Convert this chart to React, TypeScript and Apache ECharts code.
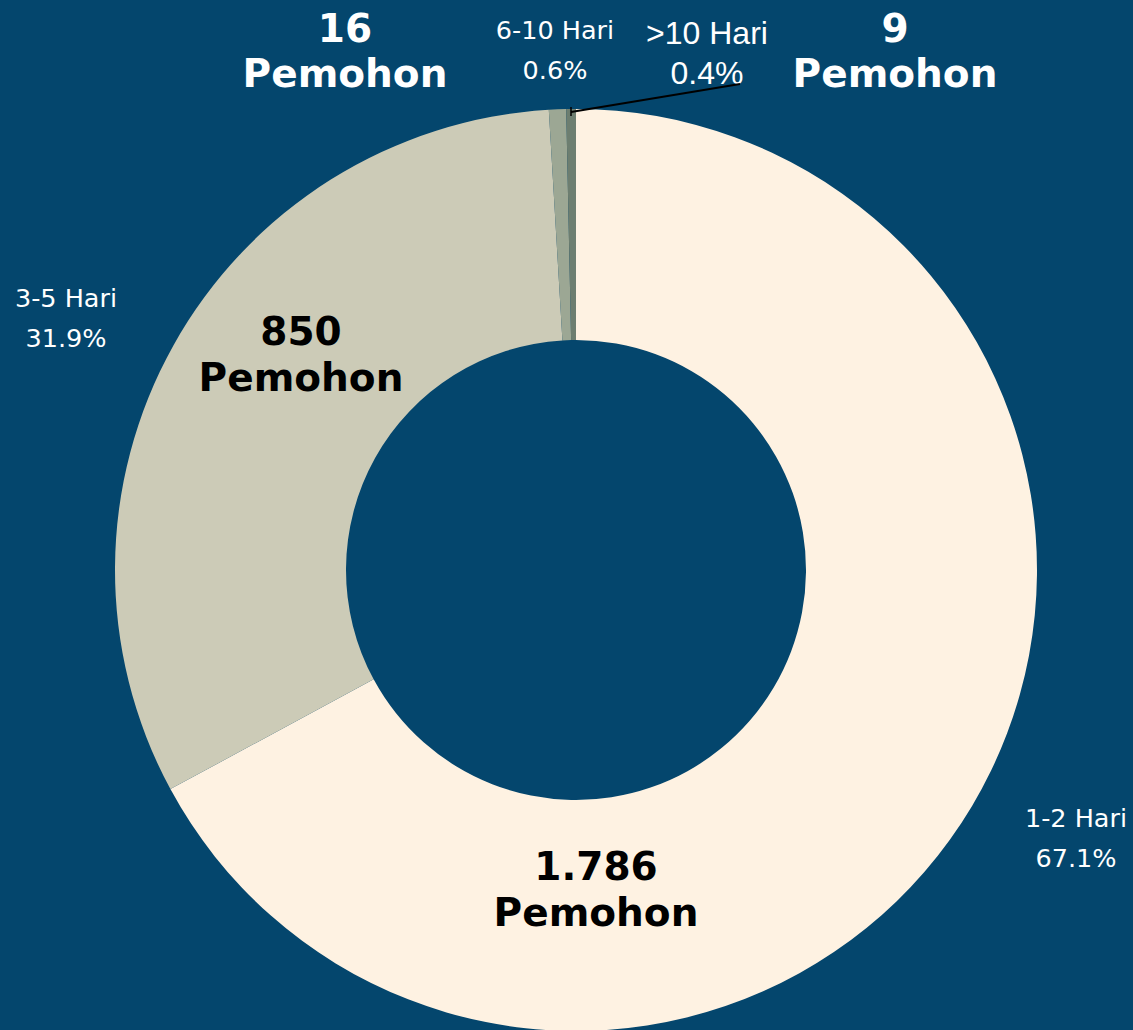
import React, { useEffect, useRef } from "react";
import * as echarts from "echarts";

const categories = ["1-2 Hari", "3-5 Hari", "6-10 Hari", ">10 Hari"];
const values = [1786, 850, 16, 9];
const percentLabels = ["67.1%", "31.9%", "0.6%", "0.4%"];
const countLabels = ["1.786", "850", "16", "9"];
const colors = ["#FEF2E2", "#CCCBB7", "#9CA794", "#6D7E70"];

const BG = "#04466D";
const boldFont = "DejaVu Sans";
const smallFont = "DejaVu Sans";

export default function App() {
  const ref = useRef<HTMLDivElement>(null);
  useEffect(() => {
    if (!ref.current) return;
    const chart = echarts.init(ref.current, null, { renderer: "svg" });

    const bigText = (x: number, y: number, text: string, fill: string) => ({
      type: "text",
      x,
      y,
      style: {
        text,
        fill,
        font: `900 39px "${boldFont}"`,
        textAlign: "center",
        textVerticalAlign: "middle",
      },
      z: 10,
    });
    const smallText = (x: number, y: number, text: string, size: number, family: string) => ({
      type: "text",
      x,
      y,
      style: {
        text,
        fill: "#FFFFFF",
        font: `${size}px "${family}"`,
        textAlign: "center",
        textVerticalAlign: "middle",
      },
      z: 10,
    });

    const graphics: any[] = [
      smallText(1076, 818, categories[0], 25.5, smallFont),
      smallText(1076, 858, percentLabels[0], 25.5, smallFont),
      bigText(596, 866, countLabels[0], "#000000"),
      bigText(596, 912, "Pemohon", "#000000"),
      smallText(66, 298, categories[1], 25.5, smallFont),
      smallText(66, 338, percentLabels[1], 25.5, smallFont),
      bigText(301, 331, countLabels[1], "#000000"),
      bigText(301, 377, "Pemohon", "#000000"),
      smallText(555, 30, categories[2], 25.5, smallFont),
      smallText(555, 70, percentLabels[2], 25.5, smallFont),
      bigText(345, 28, countLabels[2], "#FFFFFF"),
      bigText(345, 73, "Pemohon", "#FFFFFF"),
      smallText(707, 33, categories[3], 32, "Liberation Sans"),
      smallText(707, 73, percentLabels[3], 32, "Liberation Sans"),
      bigText(895, 28, countLabels[3], "#FFFFFF"),
      bigText(895, 73, "Pemohon", "#FFFFFF"),
      {
        type: "line",
        shape: { x1: 740, y1: 84, x2: 571, y2: 112 },
        style: { stroke: "#000000", lineWidth: 2 },
        z: 10,
      },
      {
        type: "line",
        shape: { x1: 571, y1: 107, x2: 571, y2: 116 },
        style: { stroke: "#000000", lineWidth: 1.5 },
        z: 10,
      },
    ];

    chart.setOption({
      animation: false,
      backgroundColor: BG,
      series: [
        {
          type: "pie",
          center: [576, 570],
          radius: [230, 461],
          startAngle: 90,
          clockwise: true,
          label: { show: false },
          labelLine: { show: false },
          emphasis: { disabled: true },
          itemStyle: { borderWidth: 0 },
          data: categories.map((c, i) => ({
            name: c,
            value: values[i],
            itemStyle: { color: colors[i] },
          })),
        },
      ],
      graphic: graphics,
    });
    return () => chart.dispose();
  }, []);
  return (
    <div
      ref={ref}
      style={{ position: "fixed", left: 0, top: 0, width: 1133, height: 1030 }}
    />
  );
}
